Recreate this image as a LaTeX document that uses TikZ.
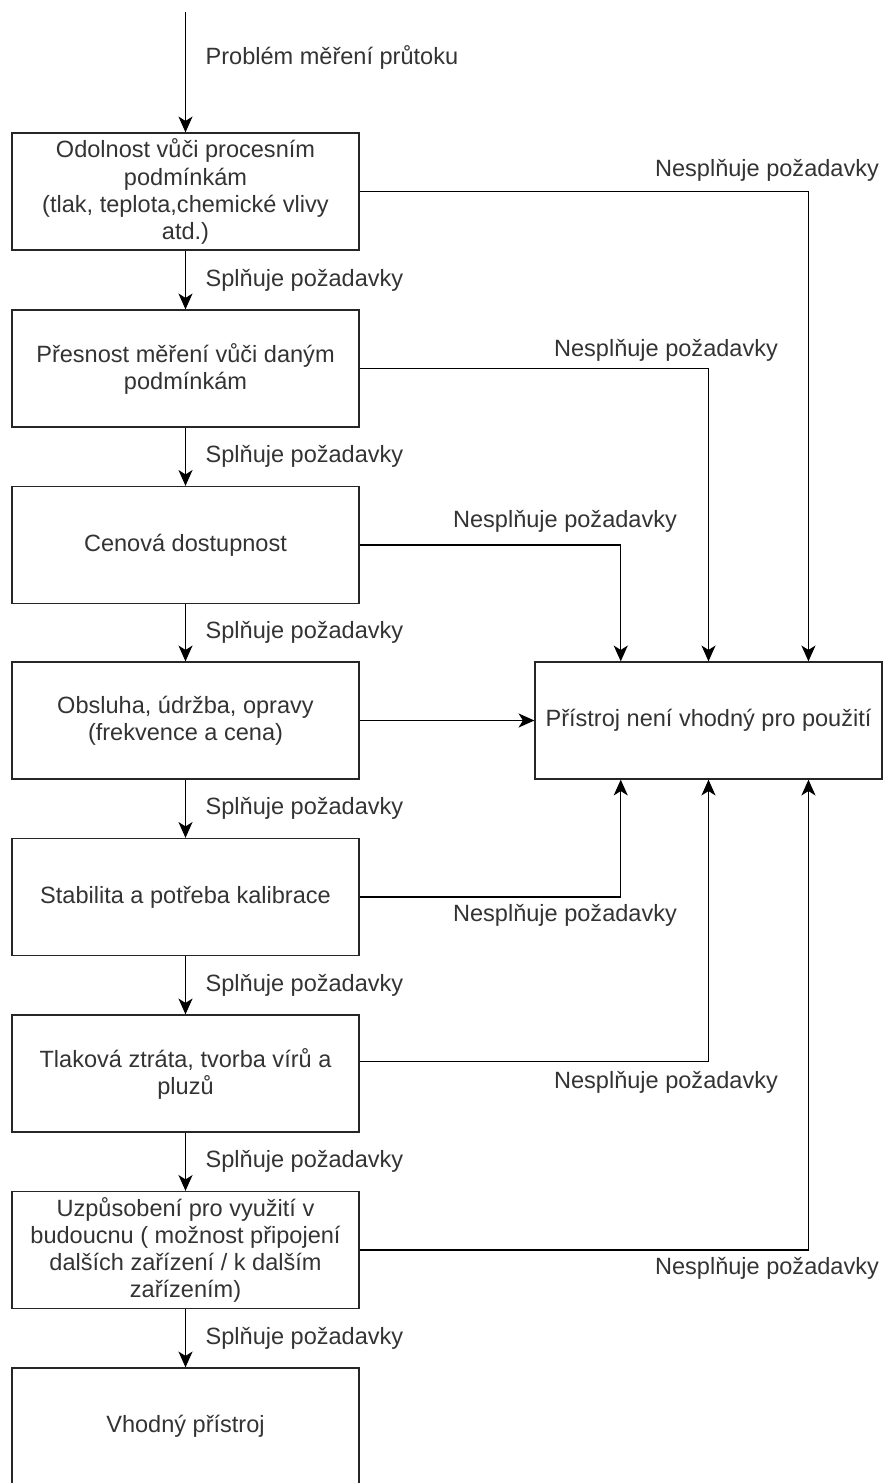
\documentclass[tikz,border=0pt]{standalone}
\usepackage{fontspec}
\setmainfont{Liberation Sans}
\usetikzlibrary{arrows.meta}
\usetikzlibrary{calc}

\tikzset{
  box/.style={draw=black!85, minimum width=6.94cm, minimum height=2.34cm, align=center, inner sep=2pt},
  lbl/.style={inner sep=0pt},
  pass/.style={->},
  fail/.style={->}
}

\begin{document}
\begin{tikzpicture}[x=0.02cm, y=-0.02cm, line width=0.75pt, text=black!80,
  font=\fontsize{13.4}{15.4}\selectfont,
  >={Stealth[length=9pt,width=8pt,inset=2.5pt]}]
\useasboundingbox (0,0) rectangle (884,1483);

% left column
\node[box] (odolnost) at (185.5,191.5) {Odolnost vůči procesním\\podmínkám\\(tlak, teplota,chemické vlivy\\atd.)};
\node[box] (presnost) at (185.5,368.5) {Přesnost měření vůči daným\\podmínkám};
\node[box] (cena) at (185.5,545) {Cenová dostupnost};
\node[box] (obsluha) at (185.5,720.5) {Obsluha, údržba, opravy\\(frekvence a cena)};
\node[box] (stabilita) at (185.5,897) {Stabilita a potřeba kalibrace};
\node[box] (tlak) at (185.5,1073.5) {Tlaková ztráta, tvorba vírů a\\pluzů};
\node[box] (budoucnost) at (185.5,1250) {Uzpůsobení pro využití v\\budoucnu ( možnost připojení\\dalších zařízení / k dalším\\zařízením)};
\node[box] (vhodny) at (185.5,1426.5) {Vhodný přístroj};

% right box
\node[box] (nevhodny) at (708.5,720.5) {Přístroj není vhodný pro použití};

% entry
\coordinate (start) at (185.5,12);
\draw[pass] (start) -- (odolnost);
\node[lbl, anchor=west] (problem) at (205,57) {Problém měření průtoku};

% passing
\foreach \a/\b in {odolnost/presnost, presnost/cena, cena/obsluha, obsluha/stabilita,
                   stabilita/tlak, tlak/budoucnost, budoucnost/vhodny}
  \draw[pass] (\a) -- node[lbl, right, xshift=0.39cm] {Splňuje požadavky} (\b);

% failing
\draw[fail] (odolnost) -| ($(nevhodny.north west)!0.787!(nevhodny.north east)$);
\draw[fail] (presnost) -| (nevhodny.north);
\draw[fail] (cena) -| ($(nevhodny.north west)!0.248!(nevhodny.north east)$);
\draw[fail] (obsluha) -- (nevhodny);
\draw[fail] (stabilita) -| ($(nevhodny.south west)!0.248!(nevhodny.south east)$);
\draw[fail] ([yshift=0.24cm]tlak.east) -| (nevhodny.south);
\draw[fail] (budoucnost) -| ($(nevhodny.south west)!0.787!(nevhodny.south east)$);

\node[lbl] (n1) at (767,170) {Nesplňuje požadavky};
\node[lbl] (n2) at (666,350) {Nesplňuje požadavky};
\node[lbl] (n3) at (565,521) {Nesplňuje požadavky};
\node[lbl] (n5) at (565,915) {Nesplňuje požadavky};
\node[lbl] (n6) at (666,1082) {Nesplňuje požadavky};
\node[lbl] (n7) at (767,1268) {Nesplňuje požadavky};
\end{tikzpicture}
\end{document}
